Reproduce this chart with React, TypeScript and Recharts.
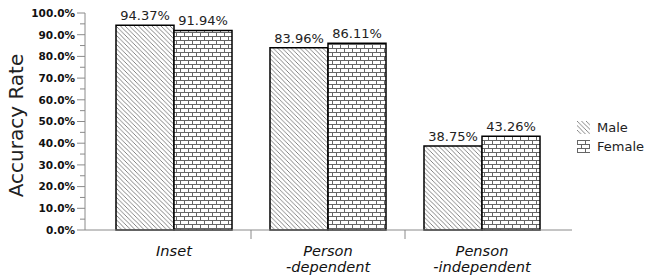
import React from 'react';
import { BarChart, Bar, XAxis, YAxis, LabelList } from 'recharts';

const categories = ['Inset', 'Person\n-dependent', 'Penson\n-independent'];
const maleValues = [94.37, 83.96, 38.75];
const femaleValues = [91.94, 86.11, 43.26];
const yTicks = [0, 5, 10, 15, 20, 25, 30, 35, 40, 45, 50, 55, 60, 65, 70, 75, 80, 85, 90, 95, 100];
const legendItems = [
  { label: 'Male', fill: 'url(#hatch)' },
  { label: 'Female', fill: 'url(#brick)' },
];

const data = categories.map((name, i) => ({
  name,
  male: maleValues[i],
  female: femaleValues[i],
}));

const FONT = '"DejaVu Sans", Verdana, sans-serif';
const AXIS = '#8a8a8a';

const Patterns = () => (
  <svg width={0} height={0} style={{ position: 'absolute' }}>
    <defs>
      <pattern id="hatch" patternUnits="userSpaceOnUse" width={4.5} height={4.5}>
        <rect width={4.5} height={4.5} fill="#fff" />
        <path d="M0,0 L4.5,4.5 M-1,3.5 L1,5.5 M3.5,-1 L5.5,1" stroke="#666" strokeWidth={0.8} />
      </pattern>
      <pattern id="brick" patternUnits="userSpaceOnUse" width={8} height={8}>
        <rect width={8} height={8} fill="#fff" />
        <path d="M0,0.5 H8 M0,4.5 H8 M0.5,0 V4.5 M4.5,4.5 V8" stroke="#666" strokeWidth={1} />
      </pattern>
    </defs>
  </svg>
);

const YTick = (props: any) => {
  const { x, y, payload } = props;
  const major = payload.value % 10 === 0;
  return (
    <g>
      <line x1={x - (major ? 8 : 5)} x2={x} y1={y} y2={y} stroke={AXIS} />
      {major && (
        <text x={x - 10} y={y} dy={3.8} textAnchor="end" fontFamily={FONT} fontSize={10.5} fontWeight="bold" fill="#111">
          {`${payload.value.toFixed(1)}%`}
        </text>
      )}
    </g>
  );
};

const XTick = (props: any) => {
  const { x, y, payload, index } = props;
  const lines = String(payload.value).split('\n');
  const half = payload.offset ?? 0;
  return (
    <g>
      {index < categories.length - 1 && (
        <line x1={x + half} x2={x + half} y1={y} y2={y + 9} stroke={AXIS} />
      )}
      {lines.map((l, i) => (
        <text key={i} x={x} y={y + 25.5 + i * 16} textAnchor="middle" fontFamily={FONT} fontSize={14.6}
          fontStyle="italic" fill="#111">
          {l}
        </text>
      ))}
    </g>
  );
};

const YLabel = (props: any) => {
  const { viewBox } = props;
  const cx = viewBox.x + 16;
  const cy = viewBox.y + viewBox.height / 2 + 4;
  return (
    <text x={cx} y={cy} transform={`rotate(-90 ${cx} ${cy})`} textAnchor="middle" dominantBaseline="central"
      fontFamily={FONT} fontSize={20} fill="#222">
      Accuracy Rate
    </text>
  );
};

const ChartLegend = () => (
  <div style={{ position: 'absolute', left: 577, top: 118, fontFamily: FONT, fontSize: 13, color: '#222' }}>
    {legendItems.map((item) => (
      <div key={item.label} style={{ display: 'flex', alignItems: 'center', height: 19 }}>
        <svg width={13} height={13} style={{ marginRight: 7 }}>
          <rect width={13} height={13} fill={item.fill} />
        </svg>
        <span>{item.label}</span>
      </div>
    ))}
  </div>
);

const fmt = (v: any) => `${Number(v).toFixed(2)}%`;

export default function App() {
  return (
    <div style={{ position: 'absolute', left: 0, top: 0, width: 647, height: 278, background: '#fff' }}>
      <Patterns />
      <BarChart width={647} height={278} data={data} margin={{ top: 13, right: 75, bottom: 0, left: 0 }}
        barGap={0} barSize={58}>
        <XAxis dataKey="name" interval={0} tickLine={false} tickSize={0} tickMargin={0} height={48}
          padding={{ left: 12, right: 13 }} axisLine={{ stroke: AXIS }} tick={<XTick />} />
        <YAxis width={85} domain={[0, 100]} ticks={yTicks} interval={0} tickLine={false} tickSize={0}
          tickMargin={0} axisLine={{ stroke: AXIS }} tick={<YTick />} label={{ content: <YLabel /> }} />
        <Bar dataKey="male" name="Male" fill="url(#hatch)" stroke="#000" strokeWidth={1.5} isAnimationActive={false}>
          <LabelList dataKey="male" position="top" offset={5} formatter={fmt}
            style={{ fontFamily: FONT, fontSize: 13, fill: '#222' }} />
        </Bar>
        <Bar dataKey="female" name="Female" fill="url(#brick)" stroke="#000" strokeWidth={1.5} isAnimationActive={false}>
          <LabelList dataKey="female" position="top" offset={5} formatter={fmt}
            style={{ fontFamily: FONT, fontSize: 13, fill: '#222' }} />
        </Bar>
      </BarChart>
      <ChartLegend />
    </div>
  );
}
